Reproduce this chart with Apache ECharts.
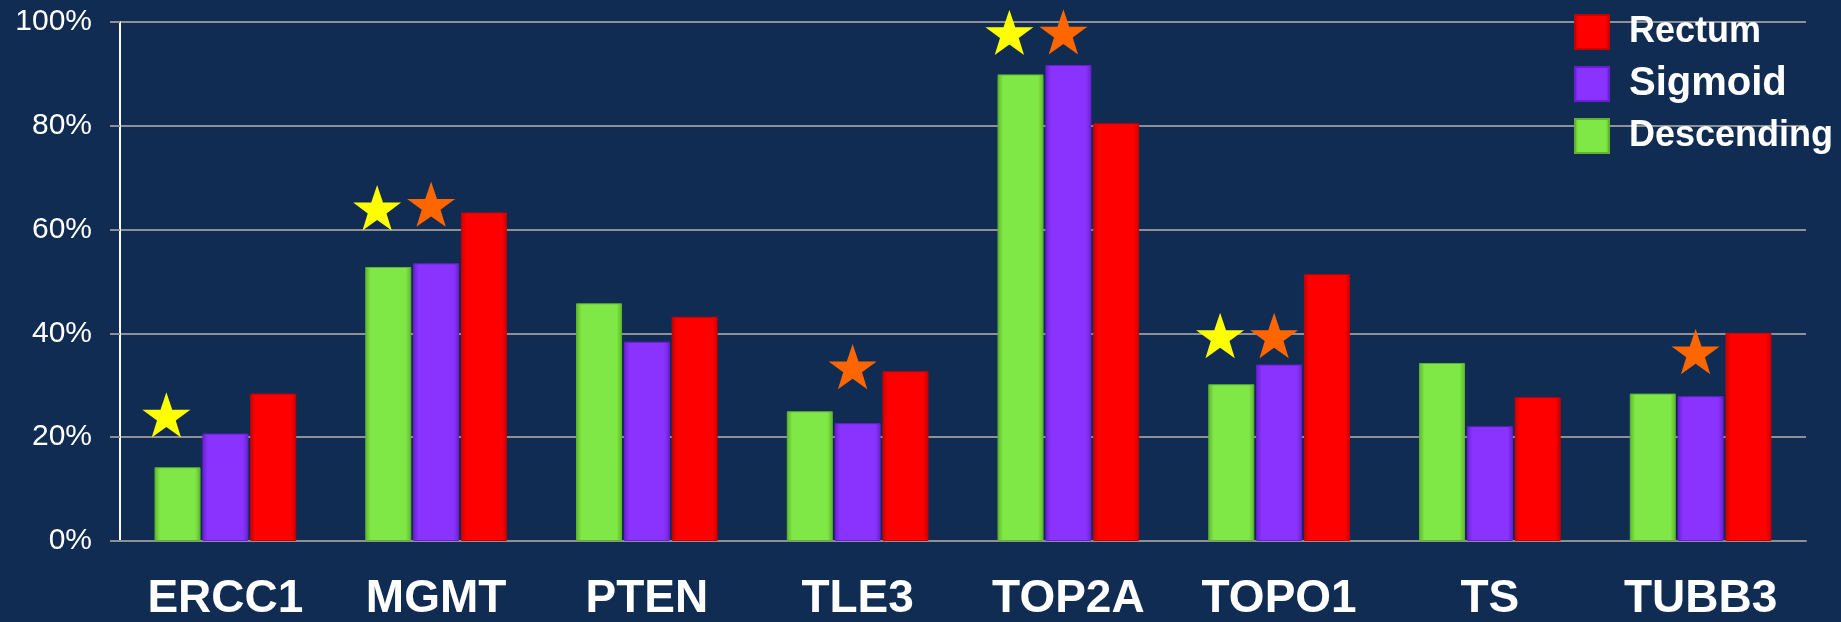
<!DOCTYPE html>
<html>
<head>
<meta charset="utf-8">
<script src="https://cdn.jsdelivr.net/npm/echarts@6/dist/echarts.min.js"></script>
<style>
  html, body { margin: 0; padding: 0; background: #102c52; }
  #chart { width: 1841px; height: 622px; }
</style>
</head>
<body>
<div id="chart"></div>
<script>
var genes = ['ERCC1', 'MGMT', 'PTEN', 'TLE3', 'TOP2A', 'TOPO1', 'TS', 'TUBB3'];
var descending = [14.2, 52.8, 45.8, 25.0, 89.9, 30.2, 34.3, 28.4];
var sigmoid = [20.7, 53.5, 38.4, 22.7, 91.7, 34.0, 22.1, 27.9];
var rectum = [28.4, 63.3, 43.2, 32.7, 80.5, 51.4, 27.7, 40.1];
// stars drawn over the bars (yellow near Descending, orange near Sigmoid)
var yellowStars = [24.3, 64.2, null, null, 98.0, 39.6, null, null];
var orangeStars = [null, 64.9, null, 33.6, 98.1, 39.6, null, 36.5];
var yTicks = [0, 20, 40, 60, 80, 100];

var starPath = 'path://M50,0 L61.8,35.1 L98.1,35.1 L68.8,56.7 L79.4,91 L50,70 L20.6,91 L31.2,56.7 L1.9,35.1 L38.2,35.1 Z';

function barFill(base, edge) {
    return new echarts.graphic.LinearGradient(0, 0, 1, 0, [
        { offset: 0, color: edge },
        { offset: 0.12, color: base },
        { offset: 0.88, color: base },
        { offset: 1, color: edge }
    ]);
}

function barSeries(name, data, base, edge) {
    return {
        name: name,
        type: 'bar',
        data: data,
        barWidth: 46,
        barGap: '4%',
        itemStyle: {
            color: barFill(base, edge),
            borderColor: edge,
            borderWidth: 1
        }
    };
}

var chart = echarts.init(document.getElementById('chart'));
var option = {
    backgroundColor: '#102c52',
    animation: false,
    grid: { left: 120, right: 35, top: 22, bottom: 79 },
    legend: {
        orient: 'vertical',
        left: 1569,
        top: 9,
        icon: 'rect',
        itemWidth: 34,
        itemHeight: 34,
        itemGap: 14,
        textStyle: {
            color: '#ffffff',
            fontFamily: 'Liberation Sans, Arial, sans-serif',
            fontWeight: 'bold',
            fontSize: 36,
            lineHeight: 34,
            padding: [0, 0, 0, 15]
        },
        data: [
            { name: 'Rectum' },
            { name: 'Sigmoid', textStyle: { fontSize: 40 } },
            { name: 'Descending' }
        ]
    },
    xAxis: {
        type: 'category',
        data: genes,
        axisLine: { lineStyle: { color: '#8d9196', width: 2 } },
        axisTick: { length: 14, lineStyle: { color: '#8d9196', width: 2 } },
        axisLabel: {
            color: '#ffffff',
            fontFamily: 'Liberation Sans, Arial, sans-serif',
            fontWeight: 'bold',
            fontSize: 46,
            margin: 35
        }
    },
    yAxis: {
        type: 'value',
        min: yTicks[0],
        max: yTicks[yTicks.length - 1],
        interval: 20,
        axisLine: { show: true, lineStyle: { color: '#ffffff', width: 2 } },
        axisTick: { show: true, length: 10, lineStyle: { color: '#8d9196', width: 2 } },
        splitLine: { lineStyle: { color: '#8d9196', width: 2 } },
        axisLabel: {
            color: '#ffffff',
            fontFamily: 'Liberation Sans, Arial, sans-serif',
            fontSize: 30,
            margin: 28,
            formatter: '{value}%'
        }
    },
    series: [
        barSeries('Descending', descending, '#80e846', '#5fb52e'),
        barSeries('Sigmoid', sigmoid, '#8a33ff', '#6a1fd0'),
        barSeries('Rectum', rectum, '#ff0000', '#c80000'),
        {
            name: 'yellowStar',
            type: 'scatter',
            data: yellowStars,
            symbol: starPath,
            symbolSize: 48,
            symbolKeepAspect: true,
            symbolOffset: [-59, 0],
            itemStyle: { color: '#ffff00', opacity: 1 },
            z: 5
        },
        {
            name: 'orangeStar',
            type: 'scatter',
            data: orangeStars,
            symbol: starPath,
            symbolSize: 48,
            symbolKeepAspect: true,
            symbolOffset: [-5, 0],
            itemStyle: { color: '#ff6600', opacity: 1 },
            z: 5
        }
    ]
};
chart.setOption(option);
</script>
</body>
</html>
